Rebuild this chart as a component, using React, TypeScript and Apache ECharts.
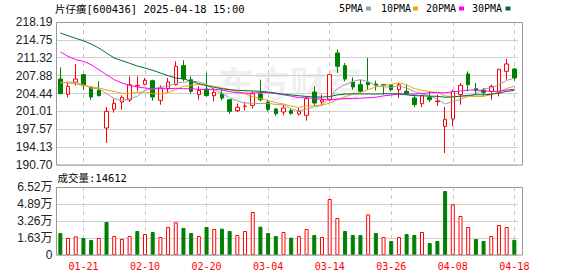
import React, { useEffect, useRef } from 'react';
import * as echarts from 'echarts';

const stockName = '片仔癀';
const stockCode = '600436';
const quoteTime = '2025-04-18 15:00';

const dates = [
  '01-16', '01-17', '01-20', '01-21', '01-22', '01-23', '01-24', '01-27', '02-05', '02-06',
  '02-07', '02-10', '02-11', '02-12', '02-13', '02-14', '02-17', '02-18', '02-19', '02-20',
  '02-21', '02-24', '02-25', '02-26', '02-27', '02-28', '03-03', '03-04', '03-05', '03-06',
  '03-07', '03-10', '03-11', '03-12', '03-13', '03-14', '03-17', '03-18', '03-19', '03-20',
  '03-21', '03-24', '03-25', '03-26', '03-27', '03-28', '03-31', '04-01', '04-02', '04-03',
  '04-07', '04-08', '04-09', '04-10', '04-11', '04-14', '04-15', '04-16', '04-17', '04-18',
];

const xTickLabels = ['01-21', '02-10', '02-20', '03-04', '03-14', '03-26', '04-08', '04-18'];

const opens = [
  207.23, 204.29, 206.59, 208.07, 205.63, 205.05, 197.81, 201.4, 202.81, 203.2,
  205.9, 206.21, 206.91, 203.13, 205.37, 206.14, 209.8, 207.1, 204.22, 205.31,
  204.03, 204.41, 203.26, 201.15, 201.95, 202.17, 204.35, 202.81, 201.46, 200.89,
  201.15, 200.5, 200.25, 204.73, 202.81, 203.26, 212.23, 209.8, 206.59, 206.14,
  206.59, 206.27, 206.14, 206.14, 205.18, 204.86, 203.58, 202.49, 203.71, 202.88,
  198.13, 199.54, 204.22, 208.2, 205.37, 205.12, 204.86, 204.54, 208.71, 209.15,
];
const closes = [
  204.41, 205.82, 207.23, 206.02, 203.77, 204.03, 201.02, 202.55, 203.71, 206.14,
  206.0, 206.98, 203.77, 205.5, 206.66, 209.67, 207.23, 204.86, 205.05, 204.03,
  204.67, 203.58, 201.02, 201.79, 202.01, 204.41, 203.26, 201.4, 200.57, 201.66,
  200.63, 201.02, 203.45, 202.62, 203.2, 208.07, 209.67, 207.23, 205.69, 204.86,
  206.14, 205.95, 206.05, 205.18, 206.14, 204.35, 202.3, 204.03, 203.26, 203.0,
  199.48, 204.86, 206.02, 206.14, 204.99, 204.67, 205.82, 209.09, 210.12, 207.42,
];
const lows = [
  204.41, 203.71, 206.0, 205.12, 203.26, 203.9, 194.93, 200.76, 201.34, 202.81,
  204.86, 206.02, 203.07, 202.3, 204.54, 206.0, 206.78, 204.41, 203.26, 203.9,
  202.94, 203.13, 200.57, 200.89, 201.21, 201.53, 202.94, 201.02, 200.18, 200.25,
  200.37, 200.18, 199.22, 202.17, 202.17, 202.94, 208.39, 206.78, 205.18, 204.67,
  205.18, 204.99, 204.22, 204.86, 203.58, 204.22, 201.85, 201.85, 202.81, 202.1,
  193.01, 198.13, 202.3, 204.86, 204.22, 204.03, 203.26, 203.9, 207.1, 206.91,
];
const highs = [
  209.48, 206.66, 210.12, 208.2, 205.8, 206.78, 201.85, 203.45, 204.09, 207.74,
  207.74, 207.42, 207.1, 206.02, 207.42, 210.63, 210.82, 207.74, 205.82, 208.39,
  205.5, 205.18, 203.39, 202.55, 202.81, 204.86, 207.1, 203.26, 201.66, 202.3,
  201.66, 201.66, 203.9, 205.82, 204.22, 208.1, 212.87, 210.31, 207.55, 207.1,
  211.27, 206.91, 206.14, 206.27, 206.46, 206.14, 204.22, 204.22, 204.86, 204.22,
  201.85, 205.18, 206.46, 208.71, 206.46, 205.5, 206.14, 209.2, 211.08, 209.35,
];

const volumes = [
  21100, 16300, 17900, 16300, 14380, 16300, 31640, 18220, 15340, 18220,
  23010, 20130, 22050, 17260, 26850, 31320, 25890, 21100, 18220, 26850,
  24930, 25250, 23010, 19180, 23010, 41230, 27170, 21100, 18220, 22050,
  16620, 18220, 24930, 19180, 17260, 53690, 35480, 23010, 19180, 19180,
  38990, 21100, 17260, 13420, 17260, 20130, 19180, 22050, 11510, 13420,
  61360, 48570, 37390, 26850, 15340, 13420, 18220, 28760, 26850, 14612,
];

const ma5 = [
  206.46, 206.66, 206.59, 206.14, 205.45, 205.37, 204.41, 203.48, 203.02, 203.49,
  203.88, 205.08, 205.32, 205.68, 205.78, 206.52, 206.57, 206.78, 206.69, 206.17,
  205.17, 204.44, 203.67, 203.02, 202.61, 202.56, 202.5, 202.57, 202.33, 202.26,
  201.5, 201.06, 201.47, 201.88, 202.18, 203.67, 205.4, 206.16, 206.77, 207.1,
  206.72, 205.97, 205.74, 205.64, 205.89, 205.53, 204.8, 204.4, 204.02, 203.39,
  202.41, 202.93, 203.32, 203.9, 204.3, 205.34, 205.53, 206.14, 206.94, 207.42,
];
const ma10 = [
  206.59, 206.46, 206.27, 206.02, 205.76, 205.5, 205.12, 204.86, 204.48, 204.47,
  204.63, 204.75, 204.4, 204.35, 204.64, 205.2, 205.82, 206.05, 206.19, 205.98,
  205.84, 205.5, 205.23, 204.86, 204.39, 203.87, 203.47, 203.12, 202.67, 202.44,
  202.03, 201.78, 202.02, 202.1, 202.22, 202.59, 203.23, 203.81, 204.32, 204.64,
  205.2, 205.69, 205.95, 206.2, 206.5, 206.13, 205.39, 205.07, 204.83, 204.64,
  203.97, 203.87, 203.86, 203.96, 203.84, 203.88, 204.23, 204.73, 205.42, 205.86,
];
const ma20 = [
  212.42, 211.59, 210.95, 210.63, 209.99, 209.03, 208.07, 207.1, 206.46, 206.02,
  205.69, 205.5, 205.37, 205.37, 205.37, 205.44, 205.37, 205.37, 205.25, 205.22,
  205.24, 205.12, 204.81, 204.6, 204.51, 204.53, 204.64, 204.59, 204.43, 204.21,
  203.94, 203.64, 203.62, 203.48, 203.31, 203.23, 203.35, 203.47, 203.5, 203.54,
  203.61, 203.73, 203.98, 204.15, 204.36, 204.36, 204.31, 204.44, 204.58, 204.64,
  204.58, 204.78, 204.91, 205.08, 205.17, 205.0, 204.81, 204.9, 205.12, 205.25,
];
const ma30 = [
  216.07, 215.56, 215.05, 214.6, 213.96, 213.19, 212.23, 211.27, 210.76, 210.25,
  209.73, 209.35, 208.9, 208.39, 207.87, 207.42, 207.3, 206.78, 206.34, 205.95,
  205.63, 205.37, 205.18, 205.05, 204.99, 204.93, 204.86, 204.73, 204.54, 204.29,
  204.17, 204.01, 203.88, 203.77, 203.75, 203.88, 204.17, 204.33, 204.39, 204.35,
  204.36, 204.32, 204.4, 204.39, 204.37, 204.19, 204.03, 204.0, 203.94, 203.91,
  203.73, 203.78, 203.94, 204.09, 204.19, 204.2, 204.28, 204.54, 204.86, 205.05,
];

const priceTicks = [190.7, 194.13, 197.57, 201.01, 204.44, 207.88, 211.32, 214.75, 218.19];
const volumeTicks = [0, 16300, 32600, 48900, 65200];

const maNames = ['5PMA', '10PMA', '20PMA', '30PMA'];
const maColors = ['#a0a0a0', '#f0a30a', '#ff00ff', '#006b3c'];

const RED = '#ff0000';
const GREEN = '#008000';
const MONO = '"DejaVu Sans Mono", "Noto Sans CJK SC", monospace';
const SANS = '"Liberation Sans", "Noto Sans CJK SC", sans-serif';

export default function App() {
  const ref = useRef<HTMLDivElement>(null);

  useEffect(() => {
    if (!ref.current) return;
    const chart = echarts.init(ref.current, null, { renderer: 'svg' });

    const candleData = dates.map((_, i) => [opens[i], closes[i], lows[i], highs[i]]);
    const volData = volumes.map((v, i) => {
      const up = i > 0 ? closes[i] >= closes[i - 1] : false;
      return {
        value: v,
        itemStyle: up
          ? { color: '#ffffff', borderColor: RED, borderWidth: 1 }
          : { color: GREEN, borderColor: GREEN, borderWidth: 1 },
      };
    });
    const maData = [ma5, ma10, ma20, ma30];

    const tickSet = new Set(xTickLabels);
    const showTick = (index: number) => tickSet.has(dates[index]);

    const gridLeft = 56.5;
    const gridWidth = 461.7;
    const borderRight = 522.5;

    const legendTextX = [339, 381, 426, 472];
    const legendBoxX = [366, 413, 459, 505.5];

    const graphics: any[] = [
      {
        type: 'text',
        left: 218,
        top: 64,
        z: -10,
        silent: true,
        style: {
          text: '东方财富',
          fill: 'rgba(0,0,0,0.075)',
          font: 'bold 36px "Noto Sans CJK SC", sans-serif',
        },
      },
      {
        type: 'rect',
        z: 100,
        silent: true,
        shape: { x: 56.5, y: 22.5, width: borderRight - 56.5, height: 142.5 },
        style: { fill: 'none', stroke: '#999999', lineWidth: 1 },
      },
      {
        type: 'rect',
        z: 100,
        silent: true,
        shape: { x: 56.5, y: 187.5, width: borderRight - 56.5, height: 67.5 },
        style: { fill: 'none', stroke: '#999999', lineWidth: 1 },
      },
      {
        type: 'text',
        x: 55,
        y: 9,
        style: {
          text: `${stockName}[${stockCode}] ${quoteTime}`,
          fill: '#000',
          font: `10.5px ${MONO}`,
          verticalAlign: 'middle',
          align: 'left',
        },
      },
      {
        type: 'text',
        x: 57.5,
        y: 178,
        style: {
          text: `成交量:${volumes[volumes.length - 1]}`,
          fill: '#000',
          font: `10.5px ${MONO}`,
          verticalAlign: 'middle',
          align: 'left',
        },
      },
    ];
    maNames.forEach((name, k) => {
      graphics.push({
        type: 'text',
        x: legendTextX[k],
        y: 8.5,
        style: {
          text: name,
          fill: '#000',
          font: `10px ${MONO}`,
          verticalAlign: 'middle',
          align: 'left',
        },
      });
      graphics.push({
        type: 'rect',
        shape: { x: legendBoxX[k], y: 6.5, width: 5, height: 4 },
        style: { fill: maColors[k] },
      });
    });

    const option: any = {
      animation: false,
      backgroundColor: '#ffffff',
      grid: [
        { left: gridLeft, top: 22, width: gridWidth, height: 143, outerBoundsMode: 'none' },
        { left: gridLeft, top: 187, width: gridWidth, height: 68, outerBoundsMode: 'none' },
      ],
      xAxis: [
        {
          type: 'category',
          gridIndex: 0,
          data: dates,
          boundaryGap: true,
          axisLine: { show: false },
          axisTick: { show: false, interval: showTick, alignWithLabel: true },
          axisLabel: { show: false, interval: showTick },
          splitLine: {
            show: true,
            interval: showTick,
            alignWithLabel: true,
            lineStyle: { color: '#c8c8c8', type: [4, 4], width: 1 },
          },
        },
        {
          type: 'category',
          gridIndex: 1,
          data: dates,
          boundaryGap: true,
          axisLine: { show: false },
          axisTick: { show: false, interval: showTick, alignWithLabel: true },
          axisLabel: {
            show: true,
            interval: showTick,
            color: RED,
            fontFamily: MONO,
            fontSize: 10,
            margin: 6,
          },
          splitLine: {
            show: true,
            interval: showTick,
            alignWithLabel: true,
            lineStyle: { color: '#c8c8c8', type: [4, 4], width: 1 },
          },
        },
      ],
      yAxis: [
        {
          type: 'value',
          gridIndex: 0,
          min: priceTicks[0],
          max: priceTicks[priceTicks.length - 1],
          axisLine: { show: false },
          axisTick: { show: false, customValues: priceTicks },
          axisLabel: {
            customValues: priceTicks,
            formatter: (v: number) => v.toFixed(2),
            color: '#222',
            fontFamily: SANS,
            fontSize: 12,
            margin: 4,
          },
          splitLine: { show: true, lineStyle: { color: '#d0d0d0', width: 1 } },
        },
        {
          type: 'value',
          gridIndex: 1,
          min: volumeTicks[0],
          max: volumeTicks[volumeTicks.length - 1],
          interval: volumeTicks[1],
          axisLine: { show: false },
          axisTick: { show: false },
          axisLabel: {
            formatter: (v: number) => (v === 0 ? '0' : (v / 10000).toFixed(2) + '万'),
            color: '#222',
            fontFamily: SANS,
            fontSize: 12,
            margin: 4,
          },
          splitLine: { show: true, lineStyle: { color: '#d0d0d0', width: 1 } },
        },
      ],
      graphic: graphics,
      series: [
        {
          type: 'candlestick',
          xAxisIndex: 0,
          yAxisIndex: 0,
          data: candleData,
          barWidth: 4,
          itemStyle: {
            color: '#ffffff',
            color0: GREEN,
            borderColor: RED,
            borderColor0: GREEN,
            borderWidth: 1,
          },
        },
        ...maNames.map((name, k) => ({
          type: 'line',
          name,
          xAxisIndex: 0,
          yAxisIndex: 0,
          data: maData[k],
          showSymbol: false,
          symbol: 'none',
          smooth: false,
          silent: true,
          lineStyle: { color: maColors[k], width: 1 },
          z: 3,
        })),
        {
          type: 'bar',
          xAxisIndex: 1,
          yAxisIndex: 1,
          data: volData,
          barWidth: 4,
        },
      ],
    };

    chart.setOption(option);
    return () => chart.dispose();
  }, []);

  return (
    <div
      ref={ref}
      style={{ position: 'fixed', left: 0, top: 0, width: 578, height: 276, background: '#fff' }}
    />
  );
}
